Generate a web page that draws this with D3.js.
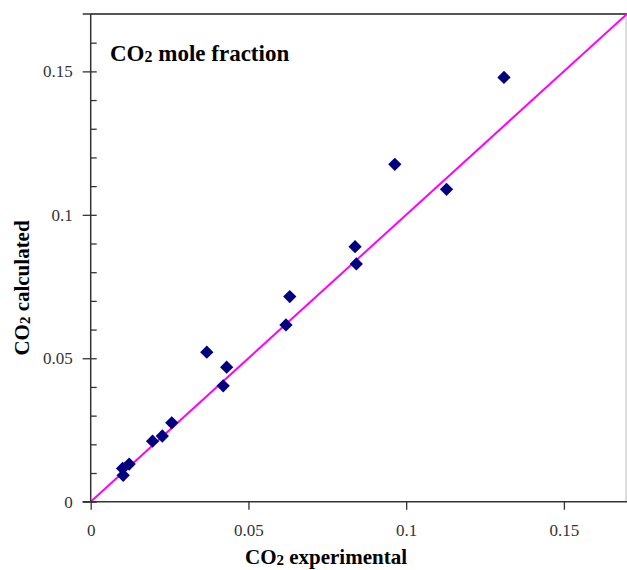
<!DOCTYPE html>
<html>
<head>
<meta charset="utf-8">
<script src="https://cdn.jsdelivr.net/npm/d3@7"></script>
<style>
  html, body { margin: 0; padding: 0; background: #fff; }
  svg { display: block; }
  text { font-family: "Liberation Serif", "Times New Roman", serif; }
</style>
</head>
<body>
<svg id="chart" width="627" height="570"></svg>
<script>
// ---- data ----
const co2Experimental = [0.0103, 0.0101, 0.0122, 0.0196, 0.0227, 0.0257, 0.0368, 0.0420, 0.0431, 0.0619, 0.0631, 0.0838, 0.0842, 0.0964, 0.1128, 0.1310];
const co2Calculated   = [0.0092, 0.0116, 0.0131, 0.0211, 0.0229, 0.0275, 0.0521, 0.0404, 0.0469, 0.0616, 0.0715, 0.0889, 0.0829, 0.1176, 0.1089, 0.1479];
const parityLine = [0, 0.17];
const xTickValues = [0, 0.05, 0.1, 0.15];
const xTickLabels = ["0", "0.05", "0.1", "0.15"];
const yTickValues = [0, 0.05, 0.1, 0.15];
const yTickLabels = ["0", "0.05", "0.1", "0.15"];
const yMinorTicks = d3.range(0, 17).map(i => i / 100);

const svg = d3.select("#chart");
const mLeft = 90.7, mRight = 627, mTop = 14, mBottom = 501.7;
const serif = '"Liberation Serif", "Times New Roman", serif';

const x = d3.scaleLinear().domain([0, 0.17]).range([mLeft, mRight]);
const y = d3.scaleLinear().domain([0, 0.17]).range([mBottom, mTop]);

// frame (top & right)
svg.append("line").attr("x1", mLeft).attr("x2", mRight).attr("y1", mTop).attr("y2", mTop)
  .attr("stroke", "#555").attr("stroke-width", 2);
svg.append("line").attr("x1", mRight - 1).attr("x2", mRight - 1).attr("y1", mTop).attr("y2", mBottom)
  .attr("stroke", "#bbb").attr("stroke-width", 1);

// parity line
const line = d3.line().x(d => x(d)).y(d => y(d));
svg.append("path").datum(parityLine).attr("d", line)
  .attr("fill", "none").attr("stroke", "#ff00ff").attr("stroke-width", 2);

// minor y ticks (inside)
const yMinor = d3.axisRight(y).tickValues(yMinorTicks).tickSize(6).tickFormat("");
svg.append("g").attr("transform", `translate(${mLeft},0)`).call(yMinor)
  .call(g => g.select(".domain").remove())
  .selectAll("line").attr("stroke", "#333").attr("stroke-width", 1.3);

// y axis
const yAxis = d3.axisLeft(y).tickValues(yTickValues).tickSize(8).tickPadding(10)
  .tickFormat((d, i) => yTickLabels[i]);
const gy = svg.append("g").attr("transform", `translate(${mLeft},0)`).call(yAxis);
gy.select(".domain").attr("stroke", "#333").attr("stroke-width", 1.5).attr("d", `M-8,${mTop}H0V${mBottom}`);
gy.selectAll(".tick line").attr("stroke", "#333").attr("stroke-width", 1.3);
gy.selectAll(".tick text").attr("font-size", 17).attr("fill", "#333").style("font-family", serif);

// x axis
const xAxis = d3.axisBottom(x).tickValues(xTickValues).tickSize(8).tickPadding(14)
  .tickFormat((d, i) => xTickLabels[i]);
const gx = svg.append("g").attr("transform", `translate(0,${mBottom})`).call(xAxis);
gx.select(".domain").attr("stroke", "#333").attr("stroke-width", 1.5).attr("d", `M${mLeft - 8},0H${mRight}`);
gx.selectAll(".tick line").attr("stroke", "#333").attr("stroke-width", 1.3);
gx.selectAll(".tick text").attr("font-size", 17).attr("fill", "#333").style("font-family", serif);

// points
const pts = co2Experimental.map((v, i) => [v, co2Calculated[i]]);
const sym = d3.symbol().type(d3.symbolSquare).size(88);
svg.append("g").selectAll("path").data(pts).join("path")
  .attr("d", sym)
  .attr("transform", d => `translate(${x(d[0])},${y(d[1])}) rotate(45)`)
  .attr("fill", "#000080");

// titles
function co2Text(sel, rest, subSize) {
  sel.append("tspan").text("CO");
  sel.append("tspan").attr("font-size", subSize).attr("dy", 1).text("2");
  sel.append("tspan").attr("dy", -1).text(rest);
}
const t = svg.append("text").attr("x", 110).attr("y", 61)
  .attr("font-size", 23).attr("font-weight", "bold").attr("fill", "#000").style("font-family", serif);
co2Text(t, " mole fraction", 16);

const xt = svg.append("text").attr("x", 326).attr("y", 564)
  .attr("text-anchor", "middle").attr("font-size", 21).attr("font-weight", "bold").attr("fill", "#000").style("font-family", serif);
co2Text(xt, " experimental", 15);

const yt = svg.append("text").attr("transform", "translate(29,288) rotate(-90)")
  .attr("text-anchor", "middle").attr("font-size", 21).attr("font-weight", "bold").attr("fill", "#000").style("font-family", serif);
co2Text(yt, " calculated", 15);
</script>
</body>
</html>
